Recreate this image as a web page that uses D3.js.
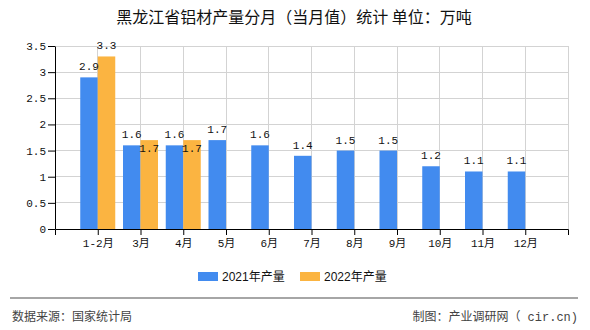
<!DOCTYPE html>
<html><head><meta charset="utf-8">
<script src="https://cdn.jsdelivr.net/npm/d3@7"></script>
<style>
body{margin:0;background:#fff;}
svg{display:block;}
</style></head>
<body><svg id="c" width="590" height="330"></svg>
<script>
const categories = ["1-2月","3月","4月","5月","6月","7月","8月","9月","10月","11月","12月"];
const values2021 = [2.9,1.6,1.6,1.7,1.6,1.4,1.5,1.5,1.2,1.1,1.1];
const values2022 = [3.3,1.7,1.7,null,null,null,null,null,null,null,null];
const seriesNames = ["2021年产量","2022年产量"];
const yTicks = [0,0.5,1,1.5,2,2.5,3,3.5];
const titleText = "黑龙江省铝材产量分月（当月值）统计 单位：万吨";
const sourceText = "数据来源：国家统计局";
const creditCjk = "制图：产业调研网（";
const creditLatin = " cir.cn)";

const colors = ["#428bef","#fbb441"];
const monoFont = "'Liberation Mono','Noto Sans CJK SC',monospace";
const cjkFont = "'Noto Sans CJK SC','Noto Sans',sans-serif";

const svg = d3.select("#c");
const L = 55, R = 568, T = 46, B = 229;

const x = d3.scalePoint().domain(categories).range([L, R]).padding(1);
const y = d3.scaleLinear().domain([0, 3.5]).range([B, T]);
const bw = 17.5;

// title
svg.append("text").attr("x", 294).attr("y", 23).attr("text-anchor", "middle")
  .attr("font-family", cjkFont).attr("font-size", 16).attr("fill", "#111")
  .text(titleText);

// grid lines
const g = svg.append("g");
g.selectAll("line.hg").data(yTicks.filter(d => d > 0)).join("line")
  .attr("x1", L).attr("x2", R).attr("y1", d => y(d)).attr("y2", d => y(d))
  .attr("stroke", "#d3d3d3").attr("stroke-width", 1).attr("shape-rendering", "crispEdges");
g.selectAll("line.vg").data(categories.map(c => x(c)).concat([R])).join("line")
  .attr("x1", d => d).attr("x2", d => d).attr("y1", T).attr("y2", B)
  .attr("stroke", "#d3d3d3").attr("stroke-width", 1).attr("shape-rendering", "crispEdges");

// bars
const series = [values2021, values2022];
series.forEach((vals, si) => {
  svg.append("g").selectAll("rect").data(categories.map((c, i) => ({c, v: vals[i]})).filter(d => d.v != null))
    .join("rect")
    .attr("x", d => si === 0 ? x(d.c) - bw : x(d.c))
    .attr("width", bw)
    .attr("y", d => y(d.v))
    .attr("height", d => B - y(d.v))
    .attr("fill", colors[si]);
});

// data labels
const labels = svg.append("g").attr("font-family", monoFont).attr("font-size", 11).attr("fill", "#111").attr("text-anchor", "middle");
categories.forEach((c, i) => {
  const v1 = values2021[i], v2 = values2022[i];
  let y1 = null;
  if (v1 != null) {
    y1 = y(v1) - 7;
    labels.append("text").attr("x", x(c) - bw / 2).attr("y", y1).text(v1.toFixed(1));
  }
  if (v2 != null) {
    let y2 = y(v2) - 7;
    if (y1 != null && Math.abs(y2 - y1) < 12) y2 = y(v2) + 12;
    labels.append("text").attr("x", x(c) + bw / 2).attr("y", y2).text(v2.toFixed(1));
  }
});

// axes
const xAxis = svg.append("g").attr("transform", `translate(0,${B})`)
  .call(d3.axisBottom(x).tickSize(6).tickSizeOuter(6).tickPadding(4));
xAxis.selectAll("text").attr("font-family", monoFont).attr("font-size", 11).attr("fill", "#111");
xAxis.selectAll("path,line").attr("stroke", "#000");

const yAxis = svg.append("g").attr("transform", `translate(${L},0)`)
  .call(d3.axisLeft(y).tickValues(yTicks).tickFormat(d => String(d)).tickSize(7).tickSizeOuter(0).tickPadding(2));
yAxis.selectAll("text").attr("font-family", monoFont).attr("font-size", 11).attr("fill", "#111");
yAxis.selectAll("path,line").attr("stroke", "#000");

// legend
const leg = svg.append("g");
const legX = [198, 300];
seriesNames.forEach((n, i) => {
  leg.append("rect").attr("x", legX[i]).attr("y", 272).attr("width", 20).attr("height", 9).attr("fill", colors[i]);
  leg.append("text").attr("x", legX[i] + 24).attr("y", 281).attr("font-family", "'Liberation Sans','Noto Sans CJK SC',sans-serif")
    .attr("font-size", 12).attr("fill", "#111").text(n);
});

// footer
svg.append("line").attr("x1", 10).attr("x2", 578).attr("y1", 298).attr("y2", 298)
  .attr("stroke", "#888").attr("stroke-width", 1.5);
svg.append("text").attr("x", 12).attr("y", 321).attr("font-family", cjkFont).attr("font-size", 12)
  .attr("fill", "#444").text(sourceText);
const cr = svg.append("text").attr("x", 578).attr("y", 321).attr("text-anchor", "end").attr("font-size", 12)
  .attr("fill", "#444").attr("xml:space", "preserve");
cr.append("tspan").attr("font-family", cjkFont).text(creditCjk);
cr.append("tspan").attr("font-family", monoFont).text(creditLatin);
</script></body></html>
